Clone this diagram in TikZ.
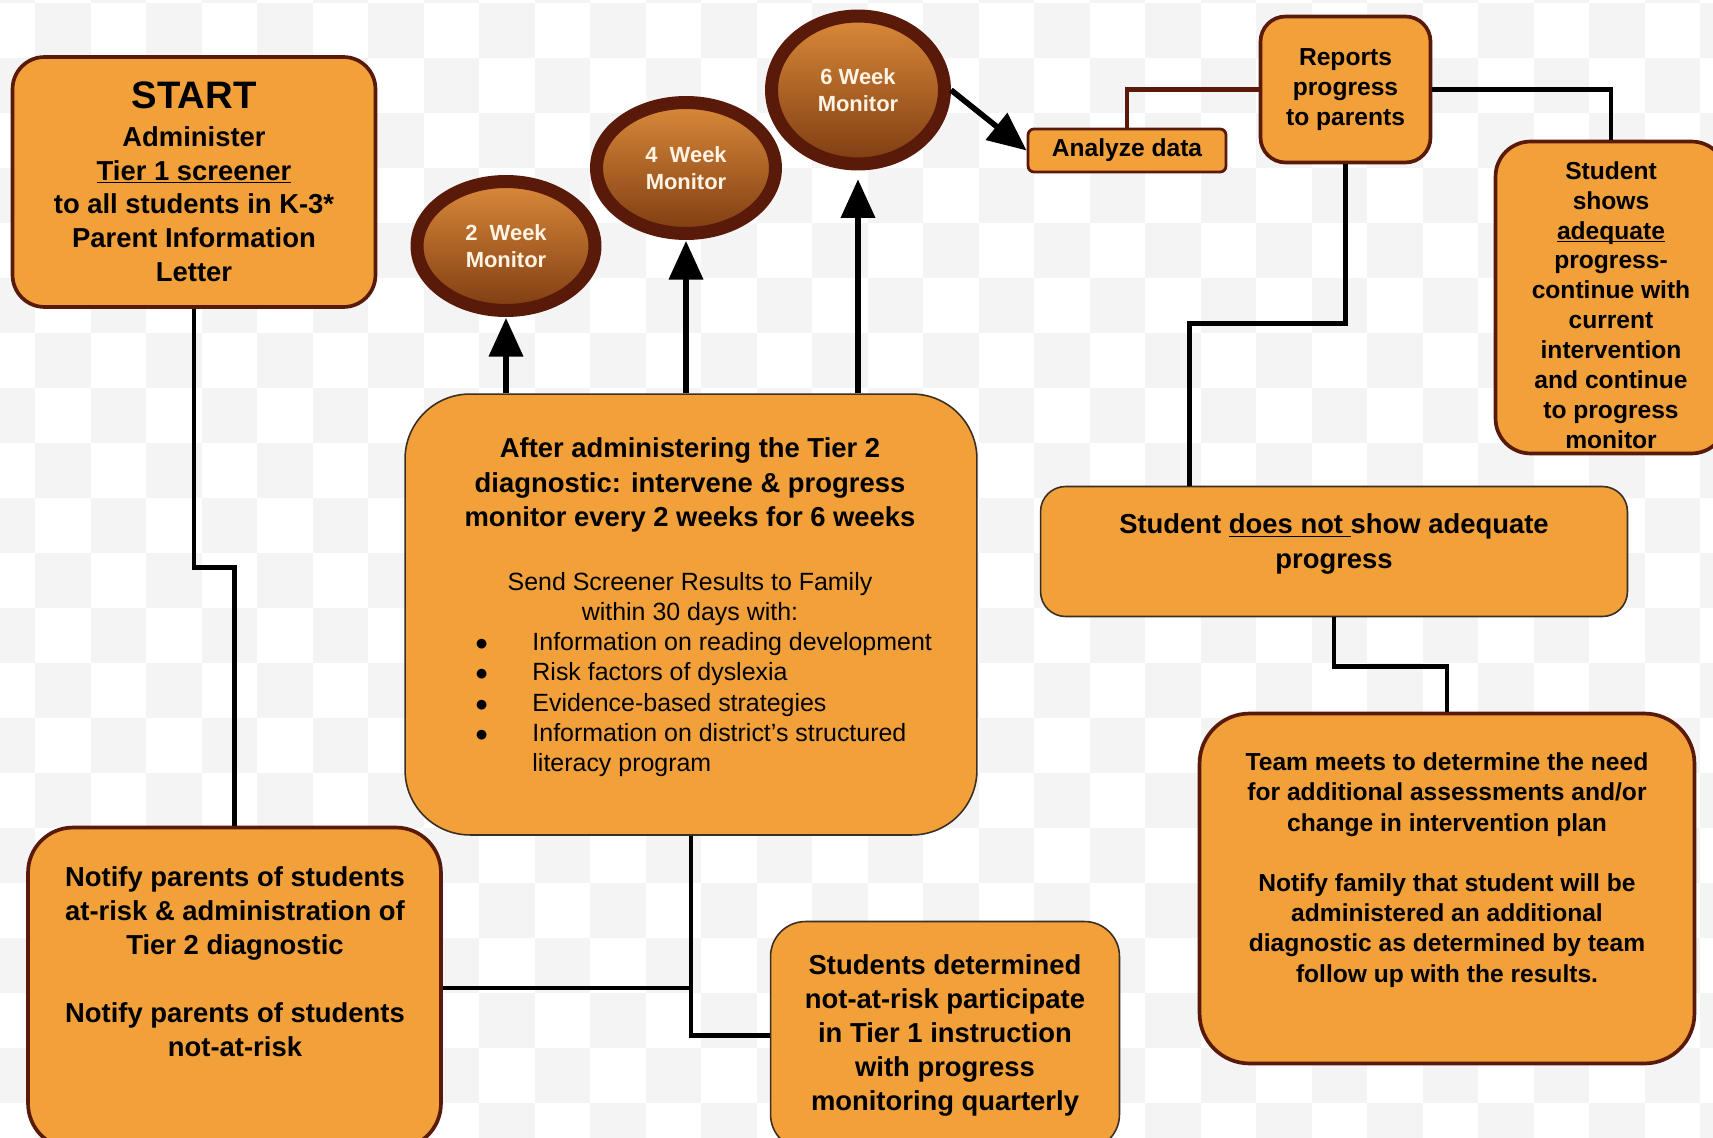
\documentclass[tikz,border=0pt]{standalone}
\usepackage{fontspec}
\setmainfont{Liberation Sans}
\usetikzlibrary{shapes.geometric,arrows.meta}

\definecolor{boxfill}{HTML}{F1A03A}
\definecolor{rim}{HTML}{5A1A0A}
\definecolor{thinedge}{HTML}{3B2E22}
\definecolor{ringtop}{HTML}{DA8A3A}
\definecolor{ringbot}{HTML}{7E3C12}
\definecolor{cream}{HTML}{FFF4E4}
\definecolor{checker}{HTML}{F4F4F4}

\newcommand{\ulx}[1]{\underline{\smash{#1}}}
\newcommand{\blt}{$\bullet$}

\tikzset{
  box/.style={rectangle, rounded corners=#1, fill=boxfill, draw=rim, line width=2.1pt, inner sep=0pt, align=center},
  box/.default=0.6cm,
  thinbox/.style={box=#1, draw=thinedge, line width=0.9pt},
  thinbox/.default=0.6cm,
  monitor/.style={ellipse, draw=rim, line width=7.4pt, top color=ringtop, bottom color=ringbot, text=cream,
    font=\fontsize{12.5}{15.5}\selectfont\bfseries, align=center, inner sep=0pt},
  link/.style={line width=2.8pt, black},
  linkb/.style={line width=2.4pt, rim},
  arr/.style={line width=3.2pt, black, -{Triangle[length=22pt,width=19pt]}},
  bigtxt/.style={font=\fontsize{15.6}{19.3}\selectfont\bfseries, align=center},
  smalltxt/.style={font=\fontsize{14}{17.2}\selectfont\bfseries, align=center},
  plaintxt/.style={font=\fontsize{14.2}{17.1}\selectfont, align=center}
}

\begin{document}
\begin{tikzpicture}[x=0.02cm, y=-0.02cm]
  \useasboundingbox (0,0) rectangle (1713,1138);
  \clip (0,0) rectangle (1713,1138);
  \fill[white] (0,0) rectangle (1713,1138);
  \foreach \i in {0,...,31} {
    \foreach \j in {0,...,21} {
      \pgfmathtruncatemacro{\cpar}{mod(\i+\j,2)}
      \ifnum\cpar=0 \fill[checker] (-20.5+55.5*\i,-52+55*\j) rectangle ++(55.5,55); \fi
    }
  }

  \node[box=0.64cm, bigtxt, minimum width=7.26cm, minimum height=5.0cm] (start) at (194,182)
    {{\fontsize{21.8}{26}\selectfont START}\\[2pt]Administer\\\ulx{Tier 1 screener}\\to all students in K-3*\\Parent Information\\Letter};

  \node[monitor, minimum width=3.56cm, minimum height=2.58cm] (w2) at (506,246) {2\ \ Week\\Monitor};
  \node[monitor, minimum width=3.58cm, minimum height=2.62cm] (w4) at (686,168) {4\ \ Week\\Monitor};
  \node[monitor, minimum width=3.46cm, minimum height=2.96cm] (w6) at (858,90) {6 Week\\Monitor};

  \node[box=0.12cm, smalltxt, line width=1.6pt, minimum width=3.96cm, minimum height=0.86cm] (analyze) at (1127,150.5) {Analyze data};
  \node[box=0.5cm, smalltxt, minimum width=3.4cm, minimum height=2.92cm] (reports) at (1345.5,89.5) {Reports\\progress\\to parents};
  \node[box=0.7cm, minimum width=4.62cm, minimum height=6.24cm] (adeq) at (1611,297.5) {};
  \node[font=\fontsize{14}{17}\selectfont\bfseries, align=center, inner sep=0pt] (adeqtext) at (1611,305)
    {Student\\shows\\\ulx{adequate}\\progress-\\continue with\\current\\intervention\\and continue\\to progress\\monitor};

  \node[thinbox=1.3cm, minimum width=11.44cm, minimum height=8.82cm] (mid) at (691,614.5) {};
  \node[font=\fontsize{15.6}{19.6}\selectfont\bfseries, align=center, inner sep=0pt] (midhead) at (690,485)
    {After administering the Tier 2\\diagnostic: intervene \& progress\\monitor every 2 weeks for 6 weeks};
  \node[plaintxt, inner sep=0pt] (midsend) at (690,599) {Send Screener Results to Family\\within 30 days with:};
  \node[font=\fontsize{14.2}{17.1}\selectfont, anchor=west, inner sep=0pt] (midlist) at (475,705)
    {\begin{tabular}{@{}p{32.5pt}@{}l@{}}
      \blt & Information on reading development\\
      \blt & Risk factors of dyslexia\\
      \blt & Evidence-based strategies\\
      \blt & Information on district's structured\\
           & literacy program
    \end{tabular}};

  \node[thinbox=0.5cm, minimum width=11.74cm, minimum height=2.6cm] (notadeq) at (1334,551.5) {};
  \node[font=\fontsize{15.6}{19.9}\selectfont\bfseries, align=center, inner sep=0pt] (notadeqtext) at (1334,544)
    {Student \ulx{does not\ }show adequate\\progress};

  \node[box=1.0cm, minimum width=9.9cm, minimum height=7.0cm] (team) at (1447,888.5) {};
  \node[smalltxt, inner sep=0pt] (teamtext) at (1447,870)
    {Team meets to determine the need\\for additional assessments and/or\\change in intervention plan\\[17.2pt]Notify family that student will be\\administered an additional\\diagnostic as determined by team\\follow up with the results.};

  \node[box=0.9cm, minimum width=8.26cm, minimum height=6.42cm] (notify) at (234.5,988) {};
  \node[bigtxt, inner sep=0pt] (notifytext) at (235,961.5)
    {Notify parents of students\\at-risk \& administration of\\Tier 2 diagnostic\\[19.3pt]Notify parents of students\\not-at-risk};

  \node[thinbox=0.7cm, bigtxt, minimum width=6.98cm, minimum height=4.56cm] (notrisk) at (945,1035.5)
    {Students determined\\not-at-risk participate\\in Tier 1 instruction\\with progress\\monitoring quarterly};

  \draw[link] (start.south) -- ++(0,259) -| (notify.north);
  \draw[link] (notify.east) -- (notify.east -| mid.south);
  \draw[link] (mid.south) |- (notrisk.west);
  \draw[linkb] (analyze.north) |- (reports.west);
  \draw[link] (reports.east) -| (adeq.north);
  \draw[link] (reports.south) -- ++(0,159) -| ([xshift=-2.9cm]notadeq.north);
  \draw[link] (notadeq.south) -- ++(0,49) -| (team.north);

  \draw[arr, shorten >=0.5pt] (w2.south |- mid.north) -- (w2.south);
  \draw[arr, shorten >=0.5pt] (w4.south |- mid.north) -- (w4.south);
  \draw[arr, shorten >=5pt] (w6.south |- mid.north) -- (w6.south);
  \draw[arr] (w6.east) -- (analyze.west);
\end{tikzpicture}
\end{document}
